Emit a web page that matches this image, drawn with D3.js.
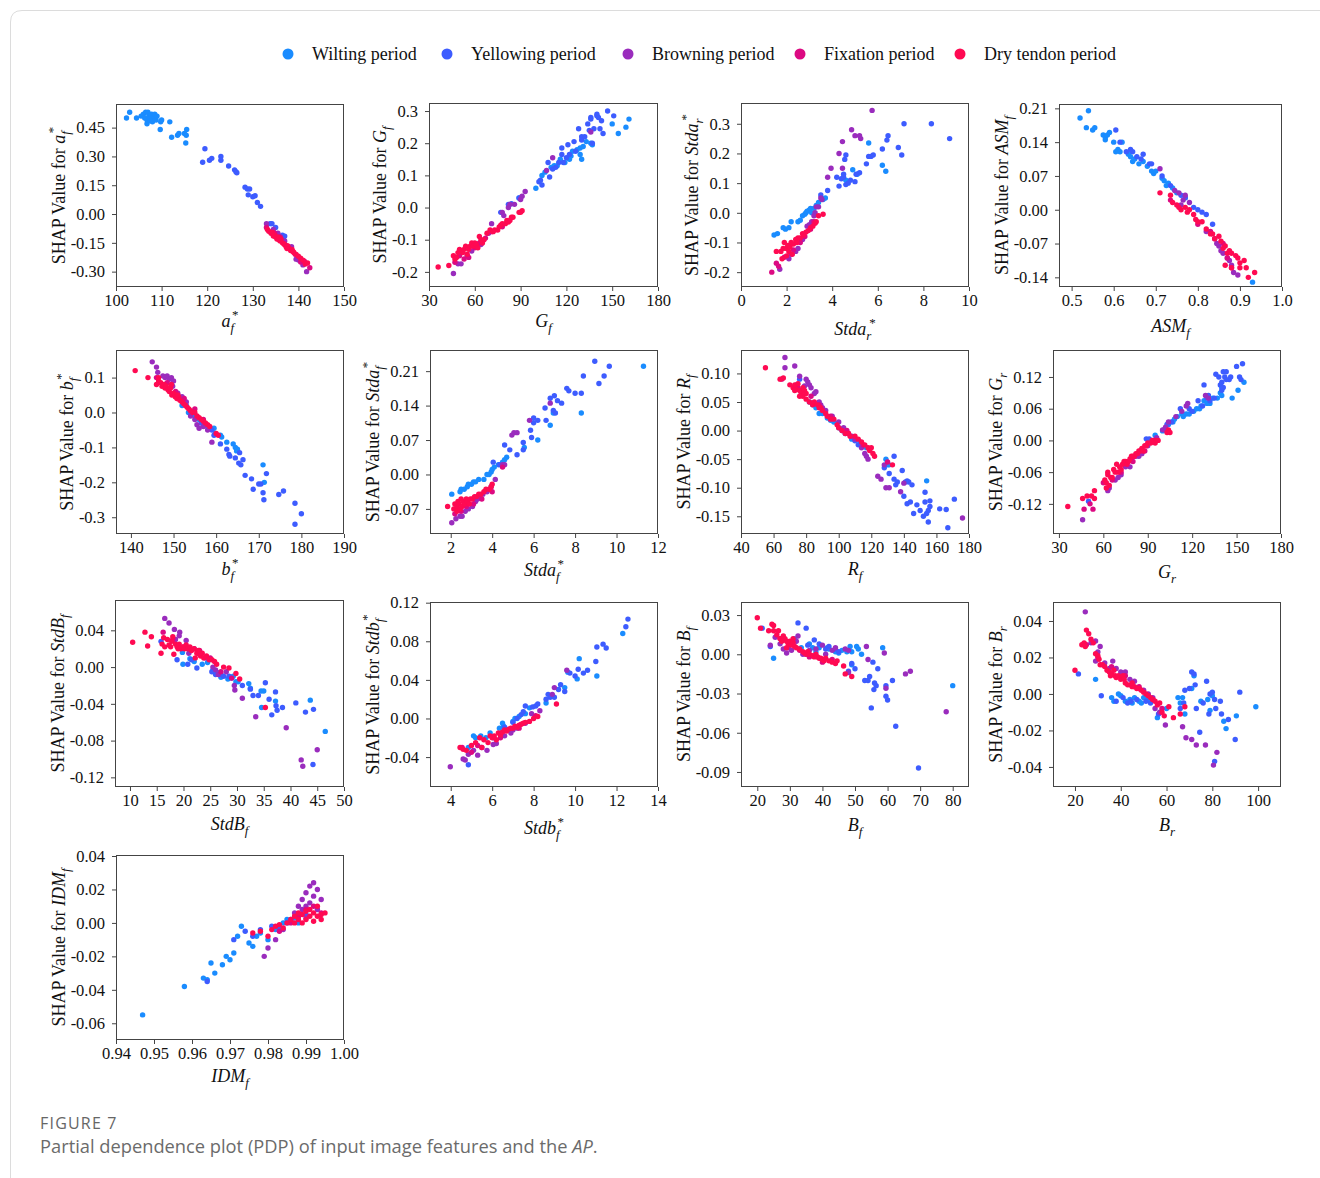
<!DOCTYPE html>
<html><head><meta charset="utf-8">
<script src="https://cdn.jsdelivr.net/npm/d3@7"></script>
<style>
html,body{margin:0;padding:0;background:#fff;}
svg{display:block;}
</style></head>
<body>
<svg id="chart" width="1320" height="1178"></svg>
<script>
// ---------- categories ----------
const periods = ["Wilting period","Yellowing period","Browning period","Fixation period","Dry tendon period"];
const periodColors = ["#1a8cff","#3d5cff","#9a2cbd","#dc0a82","#ff0a52"];

// ---------- series values: [wilting, yellowing, browning, fixation, dry tendon] ----------
const ptsAf = [
 [[102.3,.50],[103,.53],[104.5,.50],[105.5,.51],[106,.52],[106.3,.50],[106.5,.53],[106.8,.49],[107,.53],[107.2,.51],[107.5,.50],[107.8,.52],[108,.48],[108.3,.50],[108.5,.52],[108.8,.49],[109,.51],[109.8,.48],[110,.49],[109.7,.44],[111.8,.48],[112.2,.40],[113.5,.41],[113.8,.42],[115,.42],[115.4,.41],[115.5,.44],[115.3,.37],[106.8,.47],[107.5,.485]],
 [[119.5,.34],[119,.27],[120.5,.28],[121,.29],[123,.30],[123,.28],[124.7,.25],[126,.23],[126.3,.22],[126.5,.215],[128.3,.14],[128.8,.13],[129,.10],[129.3,.13],[130,.09],[130.5,.095],[131,.06],[131.7,.04],[133.8,-.05],[134.2,-.05],[135,-.07],[136.5,-.11],[136.8,-.12],[136.3,-.13],[137,-.115]],
 [[133,-.05],[134.5,-.08],[135.5,-.10],[137,-.14],[138.5,-.17],[140,-.24],[141,-.265],[141.8,-.30],[139.5,-.235]],
 [[133,-.07],[134.8,-.10],[136,-.12],[137.8,-.17],[139.3,-.21],[140.5,-.25],[142.5,-.28],[141.3,-.245]],
 [[133.2,-.08],[133.5,-.09],[134,-.10],[134.3,-.095],[134.8,-.11],[135,-.12],[135.3,-.13],[135.5,-.12],[135.8,-.135],[136,-.14],[136.2,-.13],[136.5,-.15],[136.8,-.155],[137,-.16],[137.3,-.17],[137.6,-.165],[138,-.18],[138.3,-.19],[138.6,-.185],[139,-.20],[139.5,-.21],[140,-.22],[140.5,-.23],[141,-.24],[141.5,-.26],[142,-.255],[134.5,-.115],[135.7,-.125],[137.5,-.18],[138.8,-.195]]
];
const ptsGf = [
 [[89,.03],[100,.06],[104,.10],[106,.11],[110,.125],[112,.13],[114,.13],[116,.15],[119,.14],[123,.16],[124,.175],[127,.18],[129,.165],[129,.185],[130,.15],[131,.19],[133,.205],[136,.2],[137,.195],[150,.26],[154,.23],[159,.25],[161,.275],[122,.15]],
 [[77,-.015],[82,.01],[84,.012],[89,.03],[102,.08],[103,.085],[104,.07],[108,.14],[109,.095],[111,.12],[113,.125],[115,.14],[117,.185],[117,.165],[118,.14],[120,.155],[121,.195],[122,.165],[125,.205],[126,.175],[128,.245],[130,.22],[130,.21],[132,.22],[134,.26],[135,.24],[136,.28],[136,.275],[137,.2],[138,.245],[140,.285],[140,.29],[141,.28],[142,.245],[143,.27],[144,.23],[147,.30],[151,.285]],
 [[46,-.205],[49,-.175],[51,-.175],[55,-.15],[58,-.135],[64,-.115],[69,-.08],[71,-.05],[78,-.015],[79,-.025],[82,0],[83,.01],[86,.01],[90,.025],[91,.035],[93,.05],[107,.115],[111,.155],[136,.235]],
 [[47,-.17],[50,-.15],[53,-.16],[56,-.155],[60,-.125],[63,-.11],[67,-.095],[71,-.075],[78,-.06]],
 [[36,-.185],[43,-.18],[46,-.15],[47,-.16],[48,-.155],[49,-.14],[50,-.13],[51,-.135],[52,-.14],[53,-.13],[54,-.12],[55,-.145],[56,-.13],[57,-.12],[58,-.11],[59,-.12],[60,-.11],[61,-.115],[62,-.125],[63,-.09],[64,-.10],[65,-.11],[66,-.10],[68,-.08],[70,-.07],[72,-.075],[73,-.07],[75,-.07],[76,-.06],[77,-.055],[78,-.05],[80,-.05],[81,-.04],[82,-.045],[83,-.04],[84,-.03],[85,-.03],[89,-.015],[90,-.015],[91,-.01]]
];
const ptsStdar = [
 [[1.45,-.075],[1.6,-.07],[1.85,-.05],[1.95,-.055],[2.1,-.05],[2.2,-.03],[2.5,-.03],[2.6,-.025],[2.7,-.01],[2.8,-.005],[2.85,0],[2.9,.005],[3,.01],[3.05,.015],[3.1,0],[3.2,.015],[3.3,.025],[3.4,.035],[3.6,.045],[3.7,.05],[5.6,.235],[6.2,.16],[6.35,.14],[4.9,.145],[5.1,.13],[4.6,.11]],
 [[3.5,.06],[3.8,.075],[4.2,.12],[4.3,.09],[4.4,.115],[4.5,.13],[4.6,.095],[4.7,.1],[4.8,.11],[5,.105],[5.2,.135],[5.05,.13],[4.55,.18],[4.6,.195],[5.5,.165],[5.6,.19],[5.7,.19],[5.8,.195],[6.2,.215],[6.4,.245],[6.45,.26],[6.9,.22],[7.05,.195],[7.15,.3],[8.35,.3],[9.15,.25],[4.5,.12]],
 [[1.7,-.19],[2.1,-.155],[2.2,-.14],[2.4,-.13],[2.5,-.12],[2.7,-.09],[2.9,-.045],[3,-.04],[3.1,-.03],[3.2,-.01],[3.25,0],[3.3,.02],[3.4,.02],[3.5,.05],[3.55,.045],[3.8,.12],[3.95,.15],[4.3,.2],[4.45,.24],[4.45,.15],[4.85,.28],[5,.26],[5.2,.26],[5.25,.25],[5.75,.345]],
 [[1.35,-.2],[1.55,-.17],[1.9,-.15],[2.3,-.125],[2.6,-.1],[2.8,-.08],[3.05,-.055],[3.2,-.03],[1.65,-.18]],
 [[1.55,-.13],[1.75,-.13],[1.85,-.12],[1.9,-.1],[2,-.12],[2.05,-.11],[2.1,-.13],[2.15,-.115],[2.2,-.1],[2.3,-.105],[2.4,-.09],[2.45,-.1],[2.5,-.085],[2.6,-.085],[2.7,-.07],[2.75,-.075],[2.85,-.065],[2.95,-.06],[3.05,-.05],[3.15,-.045],[3.25,-.035],[3.3,-.03],[3.4,-.01],[3.6,-.005],[2,-.145],[2.25,-.14],[1.8,-.155]]
];
const ptsAsm = [
 [[.52,.19],[.535,.17],[.54,.205],[.55,.165],[.555,.17],[.575,.155],[.58,.15],[.58,.145],[.585,.155],[.6,.14],[.605,.12],[.61,.125],[.615,.12],[.635,.115],[.64,.11],[.645,.1],[.65,.105],[.66,.095],[.67,.1],[.68,.09],[.69,.08],[.695,.075],[.7,.08],[.715,.065],[.72,.06],[.725,.05],[.73,.055],[.74,.045],[.75,.035],[.77,.025],[.93,-.15],[.59,.16],[.62,.14]],
 [[.605,.165],[.615,.14],[.64,.125],[.645,.12],[.655,.11],[.665,.105],[.67,.115],[.685,.095],[.69,.095],[.715,.07],[.735,.05],[.76,.03],[.77,.025],[.79,.005],[.8,0],[.81,-.005],[.82,-.01],[.835,-.03],[.63,.12]],
 [[.71,.085],[.745,.04],[.755,.035],[.765,.02],[.77,.03],[.78,.015],[.82,-.045],[.84,-.06],[.85,-.075],[.855,-.085],[.86,-.09],[.87,-.1],[.875,-.105],[.88,-.115],[.885,-.13],[.895,-.135],[.845,-.07],[.76,.01]],
 [[.735,.02],[.8,-.03],[.83,-.045],[.86,-.07],[.87,-.1],[.88,-.12]],
 [[.71,.035],[.735,.03],[.74,.015],[.75,.01],[.755,.005],[.76,0],[.77,.005],[.775,-.005],[.78,0],[.79,-.01],[.795,-.02],[.8,-.025],[.81,-.025],[.82,-.04],[.83,-.05],[.835,-.05],[.84,-.06],[.85,-.055],[.855,-.065],[.86,-.08],[.865,-.075],[.87,-.09],[.875,-.085],[.88,-.09],[.89,-.095],[.895,-.1],[.9,-.11],[.91,-.105],[.915,-.12],[.92,-.14],[.935,-.13],[.865,-.115],[.88,-.12],[.9,-.12]]
];
const ptsBf = [
 [[152,.02],[153,.02],[153.5,0],[154.5,-.005],[155,-.01],[156,-.02],[157,-.035],[158,-.04],[159.5,-.045],[159.8,-.06],[161,-.065],[161.3,-.07],[162.5,-.085],[164,-.09],[164.5,-.1],[164.8,-.11],[165,-.105],[171,-.15],[171.3,-.2]],
 [[154,0],[155.3,-.015],[156.5,-.03],[159,-.05],[159.5,-.065],[161,-.09],[162.5,-.105],[163,-.12],[163.2,-.125],[164.5,-.13],[165.3,-.145],[165.5,-.115],[165.8,-.15],[166.3,-.135],[166.8,-.18],[168.3,-.19],[168.7,-.22],[170,-.205],[170.5,-.205],[171,-.23],[171.2,-.25],[171.8,-.175],[174.7,-.235],[175.8,-.225],[178.5,-.26],[178.5,-.32],[180,-.29]],
 [[145,.145],[146,.13],[146.3,.115],[147.5,.105],[148,.1],[148.5,.105],[149,.095],[149.5,.1],[150,.09],[149.8,.075],[151,.055],[152,.045],[153,.03],[154,-.01],[155,-.02],[155.5,-.035],[156,-.045],[157,-.04],[159,-.085],[158,-.05]],
 [[146,.1],[148.5,.085],[150.5,.06],[152.5,.04],[155,.01],[157,-.02]],
 [[141,.12],[144,.1],[146,.08],[146.5,.09],[147,.085],[147.3,.075],[147.8,.08],[148,.07],[148.3,.075],[148.7,.065],[149,.06],[149.3,.07],[149.6,.05],[150,.055],[150.4,.045],[150.8,.04],[151.2,.045],[151.5,.035],[152,.03],[152.4,.025],[152.8,.02],[153.2,.015],[153.6,.01],[154,.005],[154.5,0],[155,0],[155.5,-.01],[156,-.015],[156.5,-.02],[157,-.025],[157.5,-.03],[158,-.035],[158.5,-.04],[160,-.06],[160.5,-.065],[146.5,.1],[149.5,.08],[151,.05]]
];
const ptsStdaf = [
 [[2.05,-.04],[2.45,-.035],[2.5,-.03],[2.65,-.03],[2.8,-.025],[2.85,-.02],[3,-.02],[3.1,-.015],[3.2,-.015],[3.35,-.01],[3.6,-.01],[3.75,0],[3.85,0],[3.95,.005],[4.1,.015],[4.3,.02],[4.5,.025],[4.7,.035],[4.6,.03],[6.8,.1],[6.95,.125],[8.3,.125],[11.3,.22],[6.2,.07],[5.55,.055],[4,.01]],
 [[4.05,.025],[4.35,.02],[4.6,.06],[4.85,.05],[5.2,.04],[5.5,.065],[5.5,.05],[5.85,.09],[5.9,.075],[6,.105],[6,.115],[6.2,.11],[6.55,.135],[6.6,.11],[6.8,.155],[6.95,.13],[7,.16],[7.05,.125],[7.15,.15],[7.35,.145],[7.6,.175],[7.7,.17],[8,.165],[8.3,.165],[8.4,.2],[8.95,.23],[9.15,.185],[9.4,.2],[9.65,.22]],
 [[2.05,-.098],[2.25,-.09],[2.45,-.085],[2.55,-.085],[2.7,-.075],[2.85,-.07],[3.05,-.065],[3.2,-.055],[3.4,-.045],[3.55,-.04],[3.75,-.035],[3.95,-.025],[4.15,-.01],[4.5,.02],[4.6,.02],[4.95,.08],[5.05,.085],[5.2,.085],[5.8,.11],[6.8,.145],[3.3,-.05]],
 [[2.2,-.08],[2.5,-.075],[2.75,-.065],[3.1,-.06],[3.5,-.05],[4,-.035],[4.5,.015]],
 [[1.85,-.065],[2.15,-.07],[2.2,-.06],[2.3,-.065],[2.35,-.055],[2.4,-.06],[2.5,-.05],[2.55,-.065],[2.6,-.055],[2.7,-.06],[2.75,-.05],[2.8,-.055],[2.9,-.06],[2.95,-.05],[3.05,-.05],[3.15,-.045],[3.25,-.045],[3.35,-.04],[3.45,-.04],[3.6,-.035],[3.7,-.03],[3.85,-.03],[3.95,-.025],[4,-.02],[2.3,-.075],[2.45,-.07]]
];
const ptsRf = [
 [[74,.08],[82,.05],[84,.045],[86,.04],[88,.03],[90,.03],[93,.022],[95,.018],[97,.015],[100,.005],[102,0],[104,-.005],[108,-.015],[113,-.02],[117,-.03],[129,-.05],[130,-.06],[131,-.06],[154,-.088]],
 [[76,.09],[110,-.018],[112,-.025],[128,-.065],[131,-.075],[134,-.045],[134,-.085],[136,-.09],[139,-.07],[140,-.115],[141,-.09],[142,-.088],[142,-.128],[143,-.09],[144,-.125],[145,-.095],[146,-.145],[148,-.13],[150,-.14],[152,-.15],[153,-.125],[153,-.108],[154,-.145],[155,-.16],[155,-.14],[156,-.133],[156,-.123],[162,-.137],[166,-.138],[167,-.17],[171,-.12],[135,-.095]],
 [[67,.128],[67,.11],[73,.113],[76,.095],[80,.09],[81,.085],[82,.08],[83,.075],[85,.065],[86,.068],[88,.05],[89,.045],[90,.04],[92,.035],[96,.025],[100,.015],[103,.005],[106,-.005],[108,-.01],[110,-.015],[114,-.03],[116,-.04],[117,-.045],[118,-.05],[124,-.08],[126,-.085],[129,-.1],[131,-.1],[138,-.107],[140,-.092],[176,-.153],[79,.078],[128,-.06]],
 [[65,.09],[75,.075],[83,.06],[88,.045],[95,.025],[105,0],[115,-.025],[130,-.055]],
 [[55,.11],[64,.09],[66,.092],[70,.08],[72,.075],[73,.08],[74,.072],[75,.082],[76,.07],[77,.065],[78,.075],[78,.06],[79,.07],[80,.065],[80,.055],[82,.05],[84,.045],[85,.05],[87,.045],[88,.04],[89,.04],[90,.035],[92,.03],[93,.025],[95,.02],[97,.02],[99,.01],[100,.005],[102,0],[104,-.005],[106,-.005],[107,-.01],[110,-.01],[112,-.015],[114,-.02],[116,-.025],[118,-.03],[119,-.035],[120,-.03],[121,-.04],[122,-.045],[133,-.06],[73,.07],[76,.06]]
];
const ptsGr = [
 [[95,.01],[100,.018],[104,.03],[107,.035],[108,.04],[110,.045],[113,.05],[114,.045],[116,.05],[118,.05],[121,.055],[123,.06],[125,.06],[126,.065],[128,.075],[130,.07],[132,.07],[134,.08],[137,.08],[139,.09],[140,.1],[147,.08],[151,.095],[155,.11],[140,.085]],
 [[50,-.115],[89,.003],[91,.003],[101,.02],[103,.03],[106,.035],[112,.06],[118,.06],[120,.055],[124,.075],[127,.065],[128,.105],[130,.08],[131,.085],[132,.075],[135,.08],[136,.125],[138,.12],[139,.105],[140,.095],[140,.11],[141,.13],[142,.12],[143,.13],[143,.115],[145,.115],[146,.12],[150,.14],[152,.12],[153,.115],[154,.145],[141,.1]],
 [[46,-.15],[63,-.095],[64,-.09],[68,-.075],[70,-.07],[72,-.065],[75,-.05],[78,-.05],[82,-.03],[84,-.03],[86,-.025],[90,-.01],[94,0],[96,.005],[100,.02],[102,.025],[104,.035],[109,.045],[113,.055],[116,.065],[117,.07],[129,.085],[131,.08]],
 [[47,-.13],[51,-.12],[53,-.13],[60,-.08],[66,-.075],[72,-.06],[80,-.04],[88,-.02]],
 [[36,-.125],[46,-.11],[49,-.105],[52,-.105],[54,-.11],[54,-.095],[61,-.075],[62,-.08],[63,-.065],[63,-.06],[64,-.085],[65,-.07],[66,-.07],[67,-.055],[68,-.06],[70,-.06],[71,-.05],[72,-.055],[73,-.045],[74,-.04],[75,-.04],[76,-.045],[77,-.04],[78,-.035],[79,-.03],[80,-.03],[81,-.03],[82,-.025],[83,-.025],[84,-.02],[85,-.02],[86,-.015],[87,-.02],[88,-.01],[89,-.01],[90,-.005],[92,-.005],[93,0],[94,0],[95,-.005],[96,0],[97,0],[103,.015],[104,.02],[105,.015],[62,-.09],[69,-.045]]
];
const ptsStdBf = [
 [[19.8,.016],[19.9,.003],[21.2,.009],[22,.006],[23.5,.003],[25.5,-.003],[26.5,-.006],[27,-.011],[28.3,-.013],[29.3,-.01],[29.8,-.016],[30.2,-.016],[32.2,-.018],[32.5,-.023],[34.5,-.026],[35,-.026],[34.6,-.044],[37.2,-.037],[43.7,-.036],[46.5,-.07],[24.5,.005]],
 [[15.8,.028],[18.8,.008],[20.8,.003],[21.5,.008],[22.5,-.001],[25.3,-.005],[26,-.008],[27,-.008],[27.5,-.01],[28.5,-.01],[29,-.012],[31,-.02],[32.5,-.024],[33,-.031],[34,-.031],[35.3,-.017],[36,-.035],[36.5,-.052],[37.2,-.027],[37.5,-.047],[37.3,-.042],[41,-.039],[42.8,-.049],[44.3,-.046],[44.2,-.106],[38.5,-.044]],
 [[16.5,.053],[17.3,.048],[18.3,.041],[19.3,.038],[19.2,.034],[20.5,.029],[21,.015],[22,.02],[23,.014],[24,.01],[25.5,0],[26,-.003],[28,-.005],[29.5,-.02],[29.6,-.025],[31,-.034],[33.5,-.054],[39.2,-.066],[42,-.101],[42.3,-.108],[45,-.09],[18.5,.03],[26.5,-.008]],
 [[16.2,.038],[18,.03],[20,.022],[23,.018],[25,.01],[27,-.005],[29,-.012]],
 [[10.5,.027],[12.8,.038],[13.3,.023],[14,.033],[15.8,.015],[16,.025],[16.3,.032],[16.5,.022],[17,.03],[17.3,.024],[17.6,.022],[17.8,.028],[18,.033],[18.2,.014],[18.5,.025],[18.8,.022],[19.2,.025],[19.5,.02],[19.8,.022],[20.2,.02],[20.5,.024],[20.8,.02],[21.2,.022],[21.5,.018],[22,.02],[22.5,.015],[22.8,.018],[23.2,.012],[23.5,.015],[23.8,.01],[24.3,.012],[24.8,.008],[25.3,.008],[25.8,.006],[26.2,.003],[27.5,0],[28.5,-.001],[29.8,-.007],[30.5,-.013],[35.3,-.044],[22.2,.01],[19,.02]]
];
const ptsStdbf = [
 [[4.85,-.03],[5.1,-.018],[5.2,-.02],[5.45,-.018],[5.7,-.02],[5.9,-.015],[6.05,-.02],[6.35,-.01],[6.5,-.005],[6.55,-.008],[7,-.003],[7.1,0],[7.3,.002],[7.8,.011],[8.6,.016],[9.5,.032],[9.65,.048],[10.1,.041],[10.2,.062],[11.05,.044],[12.3,.088],[7.6,.005]],
 [[4.85,-.048],[6.6,-.009],[7,-.004],[7.2,0],[7.4,.004],[7.5,.007],[7.6,.013],[7.95,.012],[8.1,.013],[8.2,.015],[8.6,.02],[8.7,.025],[8.8,.022],[9,.022],[9.2,.03],[9.3,.035],[9.5,.028],[9.75,.047],[10,.044],[10.15,.051],[10.4,.047],[10.6,.05],[11,.059],[11.05,.074],[11.35,.077],[11.5,.073],[12.45,.095],[12.55,.103]],
 [[3.98,-.05],[4.7,-.043],[4.85,-.037],[4.6,-.042],[5.1,-.033],[5.3,-.038],[5.5,-.03],[5.75,-.033],[6.05,-.027],[6.2,-.026],[6.6,-.018],[7,-.012],[7.2,-.01],[7.6,-.005],[7.9,.005],[8.3,.008],[8.9,.025],[9,.032],[9.6,.05],[6.9,-.015]],
 [[4.55,-.03],[5.3,-.028],[6.4,-.02],[7.3,-.01],[8.1,.003],[5,-.035]],
 [[4.45,-.03],[4.6,-.032],[4.75,-.033],[5,-.028],[5.2,-.025],[5.4,-.02],[5.6,-.022],[5.8,-.025],[6,-.02],[6.1,-.018],[6.2,-.022],[6.3,-.015],[6.4,-.017],[6.5,-.014],[6.6,-.012],[6.7,-.013],[6.8,-.011],[6.9,-.01],[7,-.01],[7.1,-.008],[7.2,-.009],[7.3,-.007],[7.4,-.006],[7.5,-.005],[7.6,-.004],[7.8,-.003],[8,0],[8.2,.002],[9.1,.015],[5.5,-.03],[5.9,-.018]]
];
const ptsBlf = [
 [[25,-.003],[31.5,.012],[33.5,.005],[35,0],[36,.008],[37,.005],[38,.002],[39,.005],[41.5,.005],[42,.004],[44,.002],[45,.001],[46,.003],[47.5,.002],[48.5,.006],[49,.002],[50.5,.006],[51,.004],[52,0],[58.5,.005],[80,-.024],[49,-.008]],
 [[21.5,.02],[24,.006],[32.5,.024],[35,.02],[35.5,.007],[37.5,.011],[39,.008],[41,.004],[42,.006],[44,.004],[45,.002],[48,-.013],[49,-.007],[50,-.011],[53,-.02],[54,-.02],[54.5,-.017],[55,-.041],[55.5,-.006],[55.8,-.027],[56,-.022],[56.5,-.024],[57,-.011],[59.5,-.024],[59.5,-.032],[60,-.035],[61.5,-.02],[62.5,-.055],[69.5,-.087]],
 [[24,.007],[25.5,.013],[27,.008],[28,.004],[29,.001],[29.5,.005],[30.5,.003],[32,.01],[32.5,.014],[34,0],[36,.003],[38,.004],[40,.007],[41,0],[43,.003],[44,.005],[47,.004],[48,.003],[53.5,.006],[54,-.004],[59,.001],[59.5,-.026],[65.5,-.015],[67,-.013],[78,-.044],[48,-.014]],
 [[27,.012],[30,.008],[33,.003],[36,-.002],[40,-.006],[43,-.004]],
 [[20,.028],[21,.02],[23.5,.018],[24.5,.023],[25,.022],[25,.018],[26,.015],[26.5,.018],[27,.012],[27.5,.01],[28,.014],[28.5,.012],[29,.01],[29.5,.008],[30,.01],[30.5,.007],[31,.009],[31.5,.006],[32,.005],[33,.004],[34,.002],[34.5,.001],[35,0],[35.5,.002],[36,0],[37,-.001],[37.5,-.002],[38,0],[38.5,-.002],[39,-.003],[39.5,-.003],[40,-.004],[40.5,-.005],[41,-.003],[42,-.005],[43,-.006],[44,-.007],[44.5,-.005],[46.5,-.009],[47,-.015],[49,-.017],[29,.005],[31,.012]]
];
const ptsBr = [
 [[29,.008],[36,-.002],[37,-.004],[39,0],[40,-.001],[42,-.004],[44,-.003],[45,-.005],[46,-.002],[48,-.004],[49,-.005],[50,-.002],[52,-.003],[56,-.013],[60,-.008],[65,-.002],[66,-.005],[67,-.002],[68,-.011],[71,.003],[75,-.004],[78,-.003],[79,-.009],[80,-.001],[85,-.015],[86,-.019],[90.5,-.012],[99,-.007],[72,.01]],
 [[21.5,.011],[31.5,-.001],[38,-.004],[41,-.002],[43,-.005],[44.5,-.004],[47,-.003],[51,-.004],[53,-.005],[56.5,-.011],[66,-.008],[67.5,-.005],[68,.002],[70,.003],[71,.012],[72,.011],[72.5,.005],[73,-.008],[74.5,-.021],[76,-.005],[77.5,.007],[78.5,-.011],[79,0],[80,.001],[81,-.003],[81,-.037],[81.5,-.008],[83.5,-.004],[84,-.011],[87,-.014],[90,-.025],[92,.001]],
 [[24.5,.045],[27,.028],[29,.029],[30,.023],[31,.026],[33,.017],[35,.014],[36.5,.018],[38,.014],[40,.012],[42,.012],[44,.008],[46,.007],[48,.003],[50,.002],[52,0],[54,-.002],[55,-.008],[57,-.01],[59.5,-.017],[67,-.018],[68.5,-.024],[71,-.025],[73,-.028],[77,-.028],[80.5,-.039],[82,-.032],[29,.018]],
 [[25,.027],[30,.02],[36,.015],[42,.01],[48,.004],[54,-.003],[58,-.008]],
 [[20,.013],[23,.027],[24,.028],[24.5,.026],[25,.035],[26,.033],[27,.03],[28,.028],[29,.022],[30,.021],[30.5,.019],[31,.016],[32,.016],[33,.015],[34,.013],[35,.012],[35.5,.01],[36,.011],[37,.013],[37.5,.01],[38,.009],[39,.01],[40,.008],[40.5,.009],[41,.01],[41.5,.008],[42,.006],[43,.005],[44,.005],[45,.004],[46,.004],[47,.003],[48,.003],[49,.002],[50,.001],[51,0],[52,-.001],[53,-.002],[54,-.003],[55,-.004],[56,-.006],[57,-.005],[58,-.01],[59,-.012],[61,-.007],[63,-.013],[66,-.011],[68,-.007],[45,.006]]
];
const ptsIdm = [
 [[.947,-.055],[.958,-.038],[.963,-.033],[.964,-.034],[.965,-.024],[.966,-.03],[.968,-.025],[.969,-.02],[.97,-.022],[.971,-.018],[.972,-.008],[.973,-.002],[.975,-.012],[.976,-.014],[.977,-.008],[.978,-.006],[.98,-.01],[.982,-.004],[.984,0],[.985,.002],[.987,.003],[.988,0]],
 [[.971,-.01],[.974,-.005],[.976,-.008],[.978,-.004],[.981,-.002],[.983,-.003],[.985,0],[.986,.002],[.988,.004],[.99,.005],[.964,-.035]],
 [[.979,-.02],[.98,-.015],[.982,-.01],[.984,-.004],[.986,.001],[.987,.006],[.988,.01],[.989,.014],[.989,.008],[.99,.018],[.99,.01],[.991,.022],[.991,.012],[.992,.024],[.992,.016],[.993,.02],[.993,.008],[.994,.014],[.99,.003]],
 [[.983,-.005],[.986,0],[.988,.004],[.99,.008],[.992,.01],[.994,.006]],
 [[.976,-.006],[.978,-.005],[.98,-.008],[.981,-.004],[.982,-.002],[.983,-.001],[.984,-.003],[.985,0],[.986,.002],[.987,.004],[.987,0],[.988,.006],[.988,.002],[.989,.005],[.989,0],[.99,.007],[.99,.002],[.991,.008],[.991,.004],[.992,.006],[.992,.001],[.993,.004],[.993,.01],[.994,.005],[.994,.002],[.995,.006]]
];

// ---------- tick labels ----------
const xtAf=["100","110","120","130","140","150"], ytAf=["0.45","0.30","0.15","0.00","-0.15","-0.30"];
const xtGf=["30","60","90","120","150","180"], ytGf=["0.3","0.2","0.1","0.0","-0.1","-0.2"];
const xtStdar=["0","2","4","6","8","10"], ytStdar=["0.3","0.2","0.1","0.0","-0.1","-0.2"];
const xtAsm=["0.5","0.6","0.7","0.8","0.9","1.0"], ytAsm=["0.21","0.14","0.07","0.00","-0.07","-0.14"];
const xtBf=["140","150","160","170","180","190"], ytBf=["0.1","0.0","-0.1","-0.2","-0.3"];
const xtStdaf=["2","4","6","8","10","12"], ytStdaf=["0.21","0.14","0.07","0.00","-0.07"];
const xtRf=["40","60","80","100","120","140","160","180"], ytRf=["0.10","0.05","0.00","-0.05","-0.10","-0.15"];
const xtGr=["30","60","90","120","150","180"], ytGr=["0.12","0.06","0.00","-0.06","-0.12"];
const xtStdBf=["10","15","20","25","30","35","40","45","50"], ytStdBf=["0.04","0.00","-0.04","-0.08","-0.12"];
const xtStdbf=["4","6","8","10","12","14"], ytStdbf=["0.12","0.08","0.04","0.00","-0.04"];
const xtBlf=["20","30","40","50","60","70","80"], ytBlf=["0.03","0.00","-0.03","-0.06","-0.09"];
const xtBr=["20","40","60","80","100"], ytBr=["0.04","0.02","0.00","-0.02","-0.04"];
const xtIdm=["0.94","0.95","0.96","0.97","0.98","0.99","1.00"], ytIdm=["0.04","0.02","0.00","-0.02","-0.04","-0.06"];

// ---------- panel table (variable name parts, scales, layout) ----------
const panels = [
 {v:["a","f",true], pts:ptsAf, xt:xtAf, yt:ytAf, xd:[100,150], yd:[-0.38,0.573], box:[116,104,228,183], xl:40},
 {v:["G","f",false], pts:ptsGf, xt:xtGf, yt:ytGf, xd:[30,180], yd:[-0.247,0.325], box:[429,103,229,184], xl:40},
 {v:["Stda","r",true], pts:ptsStdar, xt:xtStdar, yt:ytStdar, xd:[0,10], yd:[-0.25,0.37], box:[741,103,228,184], xl:48},
 {v:["ASM","f",false], pts:ptsAsm, xt:xtAsm, yt:ytAsm, xd:[0.47,1.0], yd:[-0.16,0.219], box:[1059,104,223,183], xl:45},
 {v:["b","f",true], pts:ptsBf, xt:xtBf, yt:ytBf, xd:[136.5,190], yd:[-0.348,0.179], box:[116,350,228,184], xl:41},
 {v:["Stda","f",true], pts:ptsStdaf, xt:xtStdaf, yt:ytStdaf, xd:[1,12], yd:[-0.121,0.253], box:[430,350,228,184], xl:42},
 {v:["R","f",false], pts:ptsRf, xt:xtRf, yt:ytRf, xd:[40,180], yd:[-0.181,0.141], box:[741,350,228,184], xl:41},
 {v:["G","r",false], pts:ptsGr, xt:xtGr, yt:ytGr, xd:[26,180], yd:[-0.177,0.171], box:[1053,350,228,184], xl:44},
 {v:["StdB","f",false], pts:ptsStdBf, xt:xtStdBf, yt:ytStdBf, xd:[7.2,50], yd:[-0.1305,0.073], box:[115,600,229,187], xl:43},
 {v:["Stdb","f",true], pts:ptsStdbf, xt:xtStdbf, yt:ytStdbf, xd:[3,14], yd:[-0.071,0.1207], box:[430,602,228,185], xl:47},
 {v:["B","f",false], pts:ptsBlf, xt:xtBlf, yt:ytBlf, xd:[15,85], yd:[-0.1015,0.04], box:[741,602,228,185], xl:44},
 {v:["B","r",false], pts:ptsBr, xt:xtBr, yt:ytBr, xd:[10.4,110], yd:[-0.051,0.0504], box:[1053,602,228,185], xl:44},
 {v:["IDM","f",false], pts:ptsIdm, xt:xtIdm, yt:ytIdm, xd:[0.94,1.0], yd:[-0.070,0.0406], box:[116,855,228,185], xl:42}
];

const SERIF = "'Liberation Serif','Times New Roman',serif";
const TICK_FS = 16.5, LABEL_FS = 18;
const svg = d3.select("#chart");

// card frame
svg.append("path").attr("d","M10.5,1178 L10.5,22 Q10.5,10.5 22,10.5 L1320,10.5")
  .attr("fill","none").attr("stroke","#dcdcdc").attr("stroke-width",1);

// legend
const legX = [288,447,628,800,960];
const leg = svg.append("g");
periods.forEach((p,i)=>{
  leg.append("circle").attr("cx",legX[i]).attr("cy",54).attr("r",5.5).attr("fill",periodColors[i]);
  leg.append("text").attr("x",legX[i]+24).attr("y",60).attr("font-family",SERIF).attr("font-size",18)
    .attr("fill","#111").text(p);
});

function addVar(t, v, fs){
  t.append("tspan").attr("font-style","italic").text(v[0]);
  t.append("tspan").attr("font-style","italic").attr("font-size",fs*0.72).attr("dy",fs*0.28).text(v[1]);
  if(v[2]) t.append("tspan").attr("font-size",fs*0.72).attr("dx",-fs*0.12).attr("dy",-fs*0.72).text("*");
}

panels.forEach(pn=>{
  const [bx,by,bw,bh] = pn.box;
  const g = svg.append("g");
  const x = d3.scaleLinear().domain(pn.xd).range([bx,bx+bw]);
  const y = d3.scaleLinear().domain(pn.yd).range([by+bh,by]);
  const xa = d3.axisBottom(x).tickValues(pn.xt.map(Number)).tickFormat((d,i)=>pn.xt[i]).tickSize(4).tickPadding(3);
  const ya = d3.axisLeft(y).tickValues(pn.yt.map(Number)).tickFormat((d,i)=>pn.yt[i]).tickSize(4).tickPadding(7);
  const gx = g.append("g").attr("transform",`translate(0,${by+bh})`).call(xa);
  const gy = g.append("g").attr("transform",`translate(${bx},0)`).call(ya);
  [gx,gy].forEach(a=>{
    a.select(".domain").remove();
    a.selectAll("line").attr("stroke","#444");
    a.selectAll("text").attr("font-family",SERIF).attr("font-size",TICK_FS).attr("fill","#111");
  });
  // points
  pn.pts.forEach((arr,ci)=>{
    g.append("g").selectAll("circle").data(arr).join("circle")
      .attr("cx",d=>x(d[0])).attr("cy",d=>y(d[1])).attr("r",2.7).attr("fill",periodColors[ci]);
  });
  // frame
  g.append("rect").attr("x",bx+0.5).attr("y",by+0.5).attr("width",bw-1).attr("height",bh-1)
    .attr("fill","none").attr("stroke","#444").attr("stroke-width",1);
  // x label
  const xt = g.append("text").attr("x",bx+bw/2).attr("y",by+bh+pn.xl).attr("text-anchor","middle")
    .attr("font-family",SERIF).attr("font-size",LABEL_FS).attr("fill","#111");
  addVar(xt, pn.v, LABEL_FS);
  // y label
  let maxw = 0;
  gy.selectAll("text").each(function(){ maxw = Math.max(maxw, this.getBBox().width); });
  const lx = bx - 11 - maxw - 6;
  const ly = by + bh/2;
  const yt = g.append("text").attr("transform",`translate(${lx},${ly}) rotate(-90)`).attr("text-anchor","middle")
    .attr("font-family",SERIF).attr("font-size",LABEL_FS).attr("fill","#111");
  yt.append("tspan").text("SHAP Value for ");
  addVar(yt, pn.v, LABEL_FS);
});

// caption
const SANS = "'Open Sans','Noto Sans',sans-serif";
svg.append("text").attr("x",40).attr("y",1129).attr("font-family",SANS).attr("font-size",16)
  .attr("letter-spacing",1.2).attr("fill","#666").text("FIGURE 7");
const cap = svg.append("text").attr("x",40).attr("y",1153).attr("font-family",SANS).attr("font-size",18.3)
  .attr("fill","#6b6b6b");
cap.append("tspan").text("Partial dependence plot (PDP) of input image features and the ");
cap.append("tspan").attr("font-style","italic").text("AP");
cap.append("tspan").text(".");
</script>
</body></html>
